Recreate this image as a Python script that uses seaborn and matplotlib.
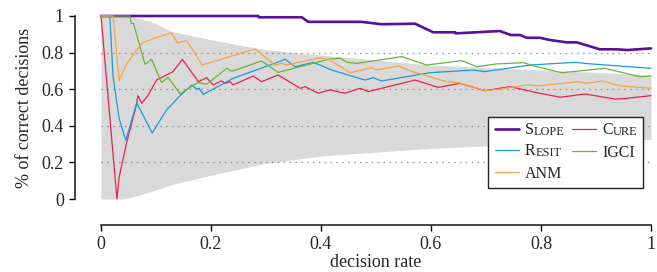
import matplotlib
matplotlib.use('Agg')
import matplotlib.pyplot as plt
import seaborn as sns

# grey band (random-guess confidence region)
band_x = [0, 0.04, 0.05, 0.09, 0.13, 0.2, 0.3, 0.4, 0.6, 0.8, 1.0]
band_hi = [1, 1, 1, 0.97, 0.915, 0.87, 0.815, 0.787, 0.732, 0.705, 0.678]
band_lo = [0, 0, 0.005, 0.04, 0.08, 0.13, 0.195, 0.235, 0.277, 0.303, 0.326]

slope_x = [0, 0.286, 0.287, 0.365, 0.377, 0.474, 0.51, 0.571, 0.604, 0.644, 0.645, 0.725,
           0.745, 0.762, 0.774, 0.798, 0.816, 0.847, 0.865, 0.907, 0.938, 0.956, 1.0]
slope_y = [1, 1, 0.993, 0.993, 0.968, 0.968, 0.955, 0.958, 0.911, 0.911, 0.905, 0.918,
           0.896, 0.896, 0.881, 0.881, 0.869, 0.856, 0.856, 0.818, 0.818, 0.814, 0.823]

cure_x = [0, 0.029, 0.033, 0.047, 0.065, 0.067, 0.074, 0.086, 0.101, 0.131, 0.148, 0.177,
          0.192, 0.204, 0.219, 0.225, 0.235, 0.24, 0.277, 0.292, 0.322, 0.362, 0.371, 0.395,
          0.416, 0.444, 0.471, 0.486, 0.571, 0.613, 0.653, 0.698, 0.744, 0.792, 0.835, 0.88,
          0.935, 0.953, 1.0]
cure_y = [1, 0, 0.12, 0.313, 0.52, 0.565, 0.523, 0.568, 0.65, 0.696, 0.763, 0.641,
          0.663, 0.623, 0.646, 0.632, 0.641, 0.623, 0.672, 0.641, 0.678, 0.605, 0.614, 0.578,
          0.596, 0.578, 0.605, 0.587, 0.65, 0.61, 0.632, 0.592, 0.614, 0.581, 0.556, 0.574,
          0.546, 0.549, 0.565]

resit_x = [0, 0.016, 0.022, 0.033, 0.045, 0.065, 0.093, 0.119, 0.141, 0.165, 0.174, 0.178,
           0.186, 0.24, 0.335, 0.353, 0.386, 0.416, 0.429, 0.48, 0.495, 0.51, 0.598, 0.677,
           0.698, 0.78, 0.862, 0.883, 1.0]
resit_y = [1, 1, 0.668, 0.44, 0.32, 0.526, 0.36, 0.486, 0.556, 0.623, 0.6, 0.605,
           0.572, 0.659, 0.763, 0.723, 0.747, 0.709, 0.696, 0.65, 0.663, 0.645, 0.69, 0.705,
           0.696, 0.732, 0.747, 0.74, 0.714]

igci_x = [0, 0.052, 0.055, 0.059, 0.08, 0.092, 0.11, 0.122, 0.144, 0.168, 0.177, 0.192,
          0.229, 0.238, 0.292, 0.322, 0.416, 0.435, 0.447, 0.465, 0.547, 0.592, 0.656, 0.683,
          0.719, 0.768, 0.792, 0.838, 0.916, 0.98, 1.0]
igci_y = [1, 1, 0.96, 0.96, 0.736, 0.763, 0.636, 0.665, 0.574, 0.623, 0.636, 0.627,
          0.714, 0.698, 0.754, 0.692, 0.765, 0.769, 0.747, 0.741, 0.778, 0.732, 0.756, 0.723,
          0.738, 0.745, 0.723, 0.69, 0.714, 0.668, 0.672]

anm_x = [0, 0.022, 0.033, 0.047, 0.074, 0.092, 0.128, 0.139, 0.156, 0.184, 0.28, 0.316,
         0.329, 0.338, 0.398, 0.416, 0.453, 0.492, 0.501, 0.541, 0.562, 0.628, 0.65, 0.698,
         0.725, 0.774, 0.795, 0.868, 0.883, 0.91, 0.944, 1.0]
anm_y = [1, 1, 0.646, 0.741, 0.851, 0.873, 0.909, 0.854, 0.865, 0.732, 0.82, 0.732,
         0.741, 0.732, 0.772, 0.76, 0.69, 0.718, 0.705, 0.727, 0.7, 0.641, 0.636, 0.592,
         0.6, 0.623, 0.618, 0.641, 0.632, 0.645, 0.618, 0.605]

grid_levels = [0.2, 0.4, 0.6, 0.8]
y_ticks = [0, 0.2, 0.4, 0.6, 0.8, 1]
y_labels = ['0', '0.2', '0.4', '0.6', '0.8', '1']
x_ticks = [0, 0.2, 0.4, 0.6, 0.8, 1]
x_labels = ['0', '0.2', '0.4', '0.6', '0.8', '1']

sns.set_style('ticks')
plt.rcParams['font.family'] = ['Liberation Serif', 'DejaVu Serif']

fig = plt.figure(figsize=(6.57, 2.72), dpi=100)
ax = fig.add_axes([101 / 657, 1 - 199 / 272, 550 / 657, 183 / 272])

ax.fill_between(band_x, band_lo, band_hi, color='#d9d9d9', lw=0, zorder=0)
for g in grid_levels:
    ax.axhline(g, color='#8c8c8c', lw=0.9, ls=(0, (1.2, 3.5)), zorder=1)

# plot order as in the original: Slope, Cure, Resit, IGCI, ANM
series = [
    ('SLOPE', slope_x, slope_y, '#5a0f9c', 1.9),
    ('CURE', cure_x, cure_y, '#e6244e', 0.9),
    ('RESIT', resit_x, resit_y, '#1a9bd7', 0.9),
    ('IGCI', igci_x, igci_y, '#6cb33a', 0.9),
    ('ANM', anm_x, anm_y, '#f6a443', 0.9),
]
handles = {}
for name, xs, ys, col, lw in series:
    sns.lineplot(x=xs, y=ys, ax=ax, color=col, lw=lw, sort=False, estimator=None,
                 clip_on=False, zorder=3)
    handles[name] = ax.lines[-1]

ax.set_xlim(0, 1)
ax.set_ylim(0, 1)
ax.set_xticks(x_ticks)
ax.set_xticklabels(x_labels)
ax.set_yticks(y_ticks)
ax.set_yticklabels(y_labels)
ax.tick_params(labelsize=13, length=4, width=1, color='black', pad=4)
ax.set_xlabel('decision rate', fontsize=13, labelpad=1)
ax.set_ylabel('% of correct decisions', fontsize=13, labelpad=6)
sns.despine(ax=ax, offset=18.7, trim=True)
for sp in ['left', 'bottom']:
    ax.spines[sp].set_linewidth(1.2)

# legend: column-major order to reproduce the 2-column row layout
order = ['SLOPE', 'RESIT', 'ANM', 'CURE', 'IGCI']
leg = ax.legend([handles[n] for n in order], order, ncol=2, loc='lower right',
                bbox_to_anchor=(0.985, 0.06), fontsize=11.5, frameon=True, fancybox=False,
                edgecolor='#222222', framealpha=1, handlelength=1.55, handletextpad=0.35,
                columnspacing=0.45, labelspacing=0.42, borderpad=0.4, borderaxespad=0)
leg.get_frame().set_linewidth(1.0)
leg.set_zorder(5)

# fake small caps for the method names
smallcaps = {'SLOPE': ('S', 'LOPE'), 'RESIT': ('R', 'ESIT'), 'CURE': ('C', 'URE')}
for txt in leg.get_texts():
    label = txt.get_text()
    if label in smallcaps:
        big, small = smallcaps[label]
        txt.set_fontsize(9.3)
        txt.set_alpha(0)
        a1 = ax.annotate(big, xy=(0, 0), xycoords=txt, va='bottom', ha='left',
                         fontsize=11.5, zorder=6)
        ax.annotate(small, xy=(1, 0), xycoords=a1, va='bottom', ha='left',
                    fontsize=8.9, zorder=6)

fig.savefig('out.png', dpi=100)
